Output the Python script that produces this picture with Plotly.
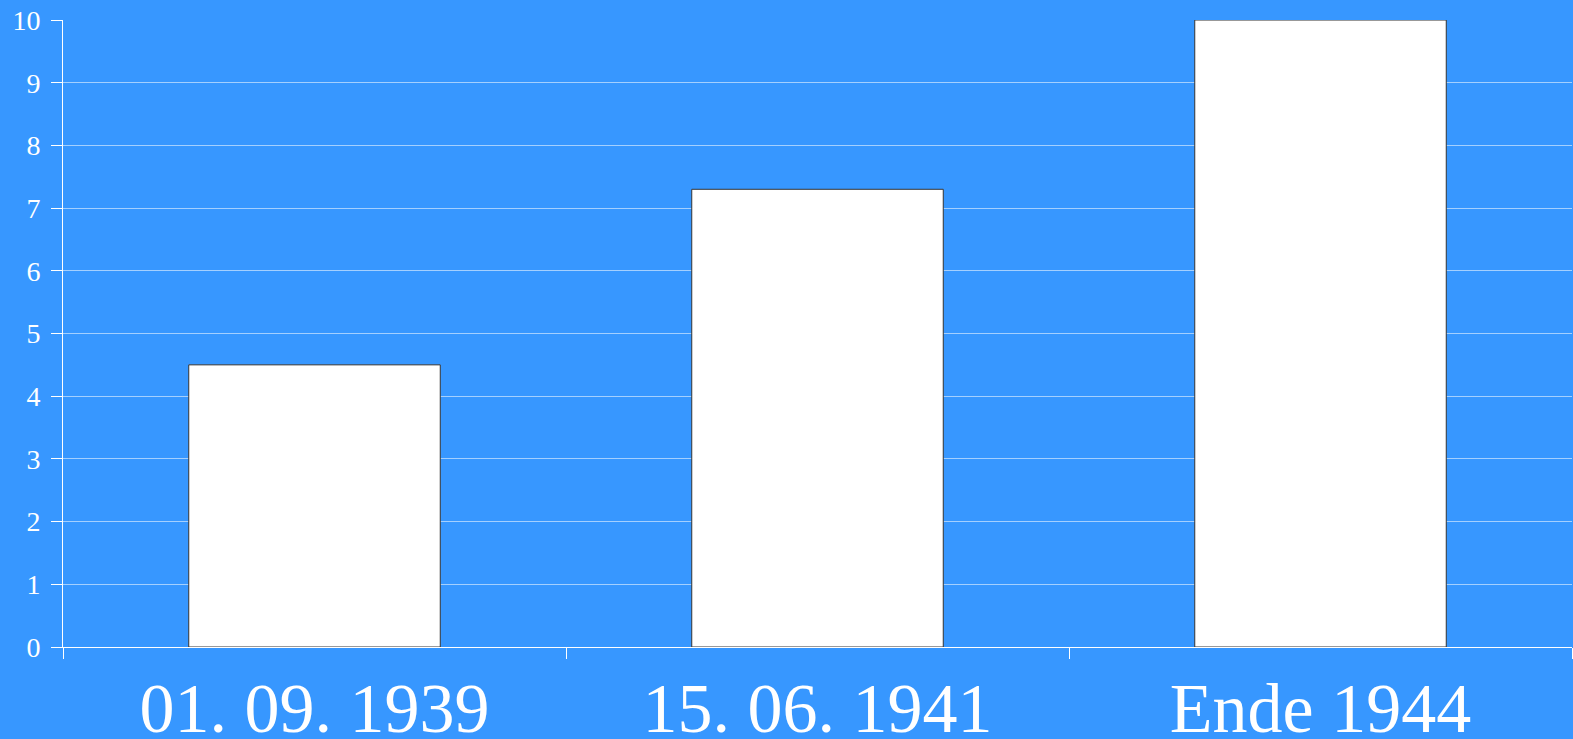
import plotly.graph_objects as go

categories = ["01. 09. 1939", "15. 06. 1941", "Ende 1944"]
values = [4.5, 7.3, 10.0]
y_ticks = [0, 1, 2, 3, 4, 5, 6, 7, 8, 9, 10]

bg = "#3797FF"
fig = go.Figure(go.Bar(
    x=categories, y=values, width=0.5,
    marker=dict(color="white", line=dict(color="#333333", width=1)),
))
fig.update_layout(
    width=1573, height=739,
    paper_bgcolor=bg, plot_bgcolor=bg,
    margin=dict(l=63, r=1, t=20, b=92),
    showlegend=False,
    font=dict(family="Liberation Serif", color="white"),
)
fig.update_xaxes(
    tickson="boundaries", ticks="outside", ticklen=11, tickcolor="white", tickwidth=1,
    showline=True, linecolor="white", linewidth=1,
    tickfont=dict(size=70, family="Liberation Serif", color="white"),
    ticklabelstandoff=0,
    automargin=False,
    showgrid=False,
)
fig.update_yaxes(
    range=[0, 10], tickvals=y_ticks, ticks="outside", ticklen=11, tickcolor="white",
    showline=True, linecolor="white", linewidth=1,
    gridcolor="rgba(255,255,255,0.55)", gridwidth=1,
    zeroline=False,
    automargin=False,
    tickfont=dict(size=28, family="Liberation Serif", color="white"),
    ticklabelstandoff=5,
)
fig.write_html(
    "out.html",
    config={"displayModeBar": False},
    post_script="document.documentElement.style.overflow='hidden';document.body.style.margin='0px';document.body.style.overflow='hidden';document.body.style.background='#3797FF';",
)
